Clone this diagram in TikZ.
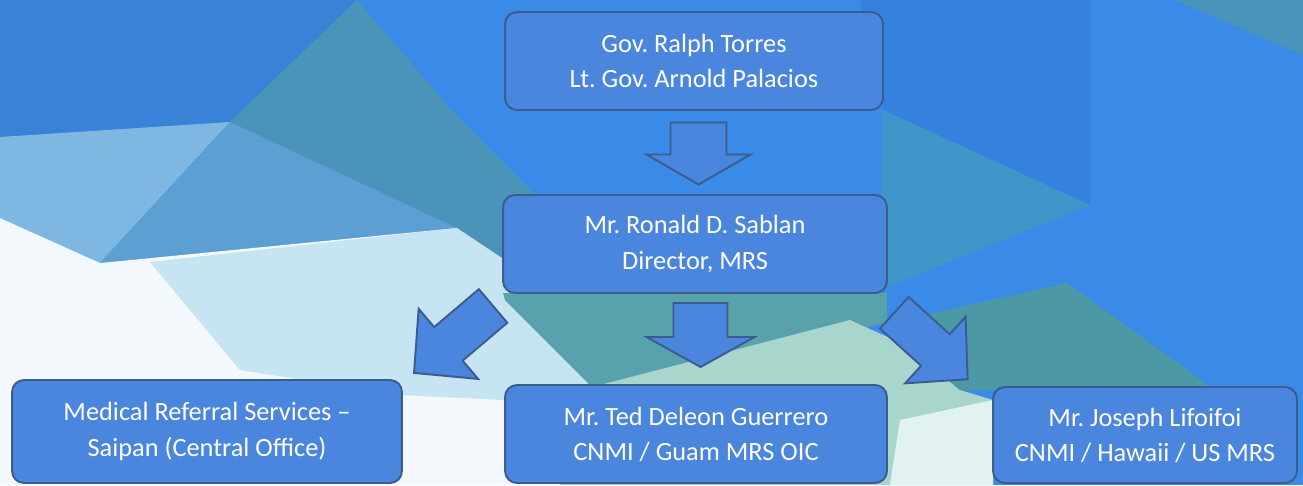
\documentclass[tikz,border=0pt]{standalone}
\usepackage{fontspec}
\setmainfont{Carlito}
\frenchspacing
\usetikzlibrary{calc}
\definecolor{bgblue}{HTML}{3A8AE8}
\definecolor{bgdark}{HTML}{3A82D8}
\definecolor{bgdeep}{HTML}{3581DE}
\definecolor{bgteal}{HTML}{4A94BA}
\definecolor{bgtealb}{HTML}{4096C8}
\definecolor{bgsea}{HTML}{4C98A4}
\definecolor{bgseal}{HTML}{58A2AC}
\definecolor{bglight}{HTML}{7EB7E2}
\definecolor{bgmid}{HTML}{5C9FD3}
\definecolor{bgpale}{HTML}{C6E4F2}
\definecolor{bgwhite}{HTML}{F3F8FC}
\definecolor{bgmint}{HTML}{A9D6CC}
\definecolor{bgmintw}{HTML}{E2F1F1}
\definecolor{boxfill}{HTML}{4A86DE}
\definecolor{boxline}{HTML}{3D5C8E}
\tikzset{
  orgbox/.style={draw=boxline,line width=1.1pt,fill=boxfill,rounded corners=0.24cm,
    text=white,align=center,inner sep=0pt,font=\fontsize{15}{20}\selectfont},
  arrowbox/.style={draw=boxline,line width=1.1pt,fill=boxfill,line join=miter}
}
% block arrow: centre, angle, length, shaft half width, head half width, head length
\newcommand{\blockarrow}[6]{%
  \draw[arrowbox,shift={#1},rotate=#2] ({-#3/2},#4) -- ({#3/2-#6},#4) -- ({#3/2-#6},#5)
    -- ({#3/2},0) -- ({#3/2-#6},{-#5}) -- ({#3/2-#6},{-#4}) -- ({-#3/2},{-#4}) -- cycle;}
\begin{document}
\begin{tikzpicture}[x=0.02cm,y=-0.02cm]
\useasboundingbox (0,0) rectangle (1303,485);
\clip (0,0) rectangle (1303,485);
% background
\fill[bgblue] (0,0) rectangle (1303,485);
\fill[bgdark] (0,0) -- (357,0) -- (230,122) -- (0,137) -- cycle;
\fill[bgteal] (357,0) -- (447,105) -- (540,200) -- (560,300) -- (457,228) -- (230,122) -- cycle;
\fill[bglight] (0,137) -- (230,122) -- (100,263) -- (0,218) -- cycle;
\fill[bgmid] (230,122) -- (457,228) -- (100,263) -- cycle;
\fill[bgwhite] (0,218) -- (100,263) -- (457,228) -- (520,300) -- (600,385) -- (560,485) -- (0,485) -- cycle;
\fill[bgpale] (150,262) -- (457,228) -- (505,260) -- (590,385) -- (505,400) -- (400,395) -- (240,370) -- cycle;
\fill[bgseal] (503,293) -- (887,293) -- (887,322) -- (640,385) -- (590,385) -- (505,300) -- cycle;
\fill[bgmint] (600,385) -- (850,320) -- (905,345) -- (960,390) -- (993,400) -- (993,485) -- (560,485) -- cycle;
\fill[bgmintw] (900,420) -- (993,400) -- (993,485) -- (890,485) -- cycle;
\fill[bgdeep] (860,0) -- (1090,0) -- (1090,205) -- (883,110) -- cycle;
\fill[bgteal] (1175,0) -- (1303,0) -- (1303,55) -- cycle;
\fill[bgtealb] (883,110) -- (1090,205) -- (880,290) -- cycle;
\fill[bgsea] (1067,283) -- (880,325) -- (905,345) -- (960,390) -- (1215,390) -- cycle;
% boxes
\node[orgbox,minimum width=7.56cm,minimum height=1.96cm] (gov) at (694,61)
  {Gov. Ralph Torres\\Lt. Gov. Arnold Palacios};
\node[orgbox,minimum width=7.68cm,minimum height=1.96cm] (director) at (695,244)
  {Mr. Ronald D. Sablan\\Director, MRS};
\node[orgbox,minimum width=7.8cm,minimum height=2.06cm] (saipan) at (207,431.5)
  {Medical Referral Services --\\Saipan (Central Office)};
\node[orgbox,minimum width=7.64cm,minimum height=1.96cm] (guam) at (696,434)
  {Mr. Ted Deleon Guerrero\\CNMI / Guam MRS OIC};
\node[orgbox,minimum width=6.08cm,minimum height=1.92cm] (hawaii) at (1145,435)
  {Mr. Joseph Lifoifoi\\CNMI / Hawaii / US MRS};
% arrows
\blockarrow{($(gov.south)!0.5!(director.north)+(4,1)$)}{-90}{62}{28}{52}{30}
\blockarrow{($(director.south)!0.5!(guam.north)+(5,-4)$)}{-90}{64}{27}{54}{30}
\blockarrow{($(director.south west)+(-48.5,45.5)$)}{220.3}{103.6}{22}{46}{45}
\blockarrow{($(director.south east)+(43,52)$)}{-42.2}{99}{21.3}{45}{43.5}
\end{tikzpicture}
\end{document}
